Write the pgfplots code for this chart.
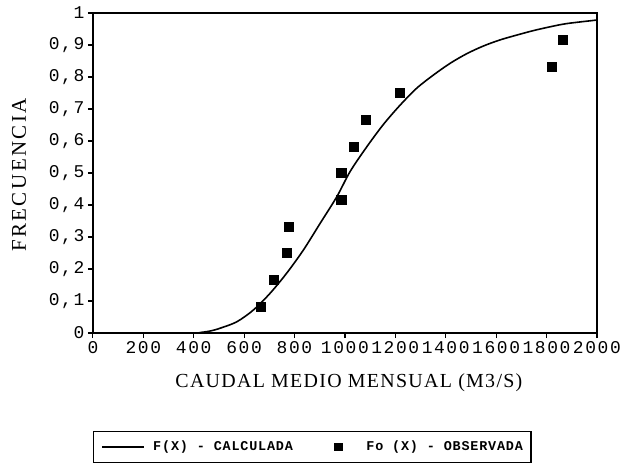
\documentclass[border=0pt]{standalone}
\usepackage{fontspec}
\usepackage{pgfplots}
\pgfplotsset{compat=1.18}
\setmainfont{Liberation Serif}
\newfontfamily\tickfont[LetterSpace=9]{Liberation Mono}
\newfontfamily\xlabfont[LetterSpace=6.5]{Liberation Serif}
\newfontfamily\ylabfont[LetterSpace=12]{Liberation Serif}
\newfontfamily\legfont[LetterSpace=6, UprightFont={* Bold}]{Liberation Mono}

\pgfplotsset{
  lineleg/.style={legend image code/.code={\draw[##1] (0bp,0bp) -- (42bp,0bp);}},
  markleg/.style={legend image code/.code={\path (0bp,-3bp) rectangle (8bp,3bp);
    \draw[##1, mark size=3.2bp, mark options={yscale=0.8}] plot coordinates {(4bp,0bp)};}},
}

\begin{document}
\begin{tikzpicture}
\begin{axis}[
  scale only axis,
  width=504bp, height=320bp,
  xmin=0, xmax=2000, ymin=0, ymax=1,
  xtick={0,200,...,2000},
  ytick={0,0.1,...,1},
  xtick pos=bottom, ytick pos=left,
  tick align=outside,
  major tick length=5bp,
  every tick/.style={black, line width=1.2bp},
  axis line style={line width=1.6bp},
  /pgf/number format/assume math mode=true,
  /pgf/number format/1000 sep={},
  ticklabel style={font=\tickfont\fontsize{18}{18}\selectfont},
  yticklabel style={/pgf/number format/.cd, fixed, precision=1, use comma},
  xlabel={CAUDAL MEDIO MENSUAL (M3/S)},
  ylabel={FRECUENCIA},
  xlabel style={font=\xlabfont\fontsize{20}{20}\selectfont, anchor=base,
    at={(axis description cs:0.508,-0.169)}},
  ylabel style={font=\ylabfont\fontsize{21}{21}\selectfont, anchor=base,
    at={(axis description cs:-0.1328,0.494)}},
  clip=false,
  legend columns=2,
  legend style={
    at={(0,-0.306)}, anchor=north west,
    draw=black, line width=1.5bp,
    inner xsep=8bp, inner ysep=10.5bp,
    nodes={inner sep=0pt, text height=8.5bp, text depth=1.5bp},
    font=\legfont\fontsize{13.5}{13.5}\selectfont,
    /tikz/column 1/.style={column sep=8bp},
    /tikz/column 2/.style={column sep=41bp},
    /tikz/column 3/.style={column sep=23bp},
  },
]
% F(X) calculada
\addplot[black, line width=1.6bp, smooth, tension=0.5, lineleg]
  coordinates {
  (0,0) (380,0) (430,0.002) (470,0.007) (505,0.015) (571,0.035)
  (637,0.072) (703,0.124) (769,0.187) (835,0.259) (902,0.343)
  (968,0.426) (1021,0.505) (1087,0.582) (1153,0.652) (1219,0.712)
  (1285,0.765) (1351,0.806) (1418,0.843) (1484,0.873) (1550,0.897)
  (1616,0.916) (1682,0.931) (1748,0.945) (1815,0.957) (1881,0.967)
  (2000,0.978)
};
\addlegendentry{F(X) - CALCULADA}
% Fo(X) observada
\addplot[only marks, mark=square*, mark size=4.6bp, black, markleg]
  coordinates {
  (666,0.083) (716,0.167) (769,0.250) (776,0.333) (985,0.417)
  (985,0.500) (1034,0.583) (1083,0.667) (1216,0.750) (1821,0.833)
  (1863,0.917)
};
\addlegendentry{Fo (X) - OBSERVADA\hspace{6bp}}
\end{axis}
\pgfresetboundingbox
\path[use as bounding box] (-92.9bp,-130bp) rectangle (528.1bp,333bp);
\end{tikzpicture}
\end{document}
